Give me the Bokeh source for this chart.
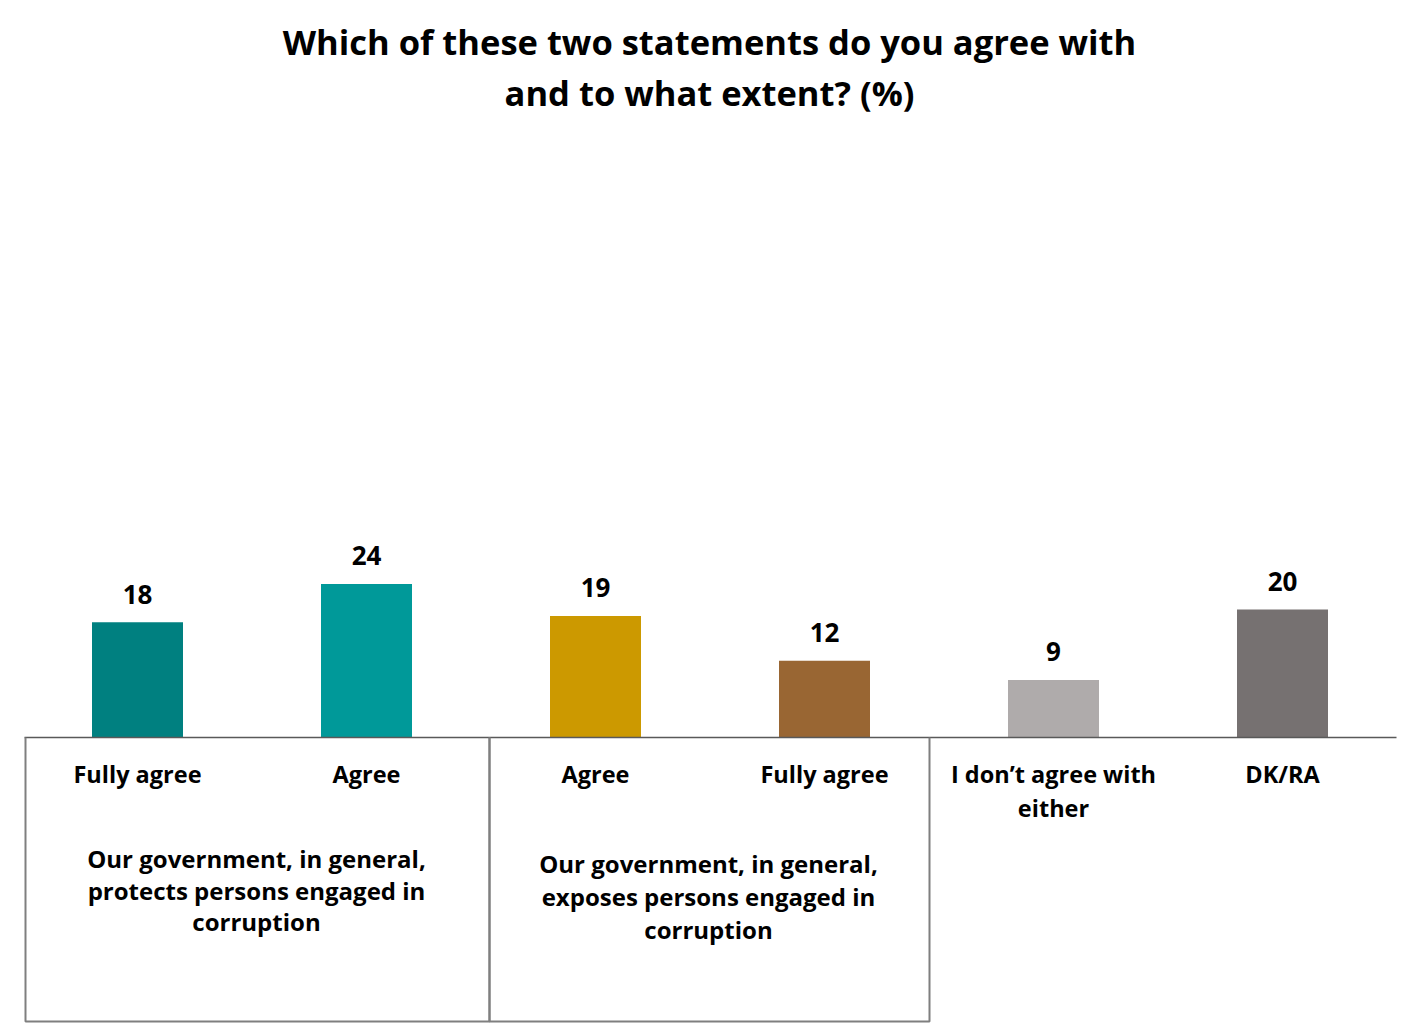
from bokeh.plotting import figure
from bokeh.models import Range1d, ColumnDataSource
from bokeh.core.properties import value
from bokeh.embed import file_html
from bokeh.resources import INLINE

# ---- data ----
categories = ["Fully agree", "Agree", "Agree", "Fully agree", "I don\u2019t agree with\neither", "DK/RA"]
values = [18, 24, 19, 12, 9, 20]
colors = ["#008080", "#009999", "#CC9900", "#996633", "#AFABAB", "#767171"]
groups = ["Our government, in general,\nprotects persons engaged in\ncorruption",
          "Our government, in general,\nexposes persons engaged in\ncorruption"]
title_lines = ["Which of these two statements do you agree with", "and to what extent? (%)"]

FONT = "Open Sans"
W, H = 1404, 1023
PX_X = 229.0   # pixels per category
PX_Y = 6.4     # pixels per percent
x_start = -137 / PX_X
x_end = x_start + W / PX_X
y_start = -(H - 737) / PX_Y
y_end = y_start + H / PX_Y

def X(sx):
    return x_start + sx / PX_X

def Y(sy):
    return y_end - sy / PX_Y

p = figure(width=W, height=H, output_backend="svg", toolbar_location=None,
           x_range=Range1d(x_start, x_end), y_range=Range1d(y_start, y_end),
           x_axis_location=None, y_axis_location=None, min_border=0,
           outline_line_color=None, background_fill_color="white",
           border_fill_color="white")
p.grid.visible = False

idx = list(range(len(values)))
src = ColumnDataSource(dict(x=idx, top=values, color=colors,
                            lab=[str(v) for v in values]))
p.vbar(x="x", top="top", bottom=0, width=91 / PX_X, fill_color="color",
       line_color=None, source=src)
p.text(x="x", y="top", text="lab", source=src, y_offset=-28,
       text_align="center", text_baseline="middle", text_font=value(FONT),
       text_font_style="bold", text_font_size="26px", text_color="#000000")

# axis line
p.line([X(24), X(1396)], [0, 0], line_color="#595959", line_width=1.5)

# group boxes
box_col = "#7F7F7F"
for (l, r) in [(25, 489), (489, 929)]:
    p.line([X(l), X(l), X(r), X(r)], [0, Y(1021), Y(1021), 0],
           line_color=box_col, line_width=2)

# category labels
for i, c in enumerate(categories):
    for j, ln in enumerate(c.split("\n")):
        p.text(x=[i], y=[Y(773 + 34 * j)], text=[ln], text_align="center",
               text_baseline="middle", text_font=value(FONT),
               text_font_style="bold", text_font_size="23.5px", text_color="#000000")

# group labels
for g, (cx, y0, dy) in zip(groups, [(256, 858, 31.5), (708, 863, 33)]):
    for j, ln in enumerate(g.split("\n")):
        p.text(x=[X(cx)], y=[Y(y0 + dy * j)], text=[ln], text_align="center",
               text_baseline="middle", text_font=value(FONT),
               text_font_style="bold", text_font_size="24px", text_color="#000000")

# title
for j, ln in enumerate(title_lines):
    p.text(x=[X(709)], y=[Y(41 + 51 * j)], text=[ln], text_align="center",
           text_baseline="middle", text_font=value(FONT),
           text_font_style="bold", text_font_size="34.5px", text_color="#000000")

open("out.html", "w").write(file_html(p, INLINE))
